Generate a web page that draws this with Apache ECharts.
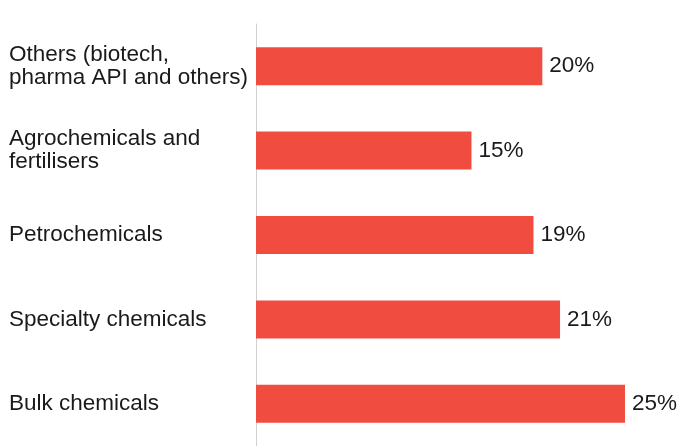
<!DOCTYPE html>
<html>
<head>
<meta charset="utf-8">
<script src="https://cdn.jsdelivr.net/npm/echarts@6/dist/echarts.min.js"></script>
<style>
html,body{margin:0;padding:0;background:#fff;}
#chart{width:681px;height:446px;}
</style>
</head>
<body>
<div id="chart"></div>
<script>
// Data (bottom to top)
var categories = ["Bulk chemicals", "Specialty chemicals", "Petrochemicals", "Agrochemicals and\nfertilisers", "Others (biotech,\npharma API and others)"];
var shareValues = [25, 20.6, 18.8, 14.6, 19.4];
var shareLabels = ["25%", "21%", "19%", "15%", "20%"];

var chart = echarts.init(document.getElementById('chart'));
chart.setOption({
  animation: false,
  grid: { left: 256, right: 26.5, top: 24, bottom: -1, containLabel: false },
  xAxis: {
    type: 'value', min: 0, max: 27,
    show: false
  },
  yAxis: {
    type: 'category',
    data: categories,
    axisLine: { show: true, lineStyle: { color: '#d0d0d0', width: 1 } },
    axisTick: { show: false },
    axisLabel: {
      align: 'left',
      margin: 247,
      color: '#1a1a1a',
      fontFamily: 'Liberation Sans, Arial, sans-serif',
      fontSize: 22.5,
      lineHeight: 23
    }
  },
  series: [{
    type: 'bar',
    data: shareValues,
    barWidth: 38,
    itemStyle: { color: '#F04D40' },
    label: {
      show: true,
      position: 'right',
      distance: 7,
      color: '#1a1a1a',
      fontFamily: 'Liberation Sans, Arial, sans-serif',
      fontSize: 22.5,
      formatter: function (p) { return shareLabels[p.dataIndex]; }
    }
  }]
});
</script>
</body>
</html>
